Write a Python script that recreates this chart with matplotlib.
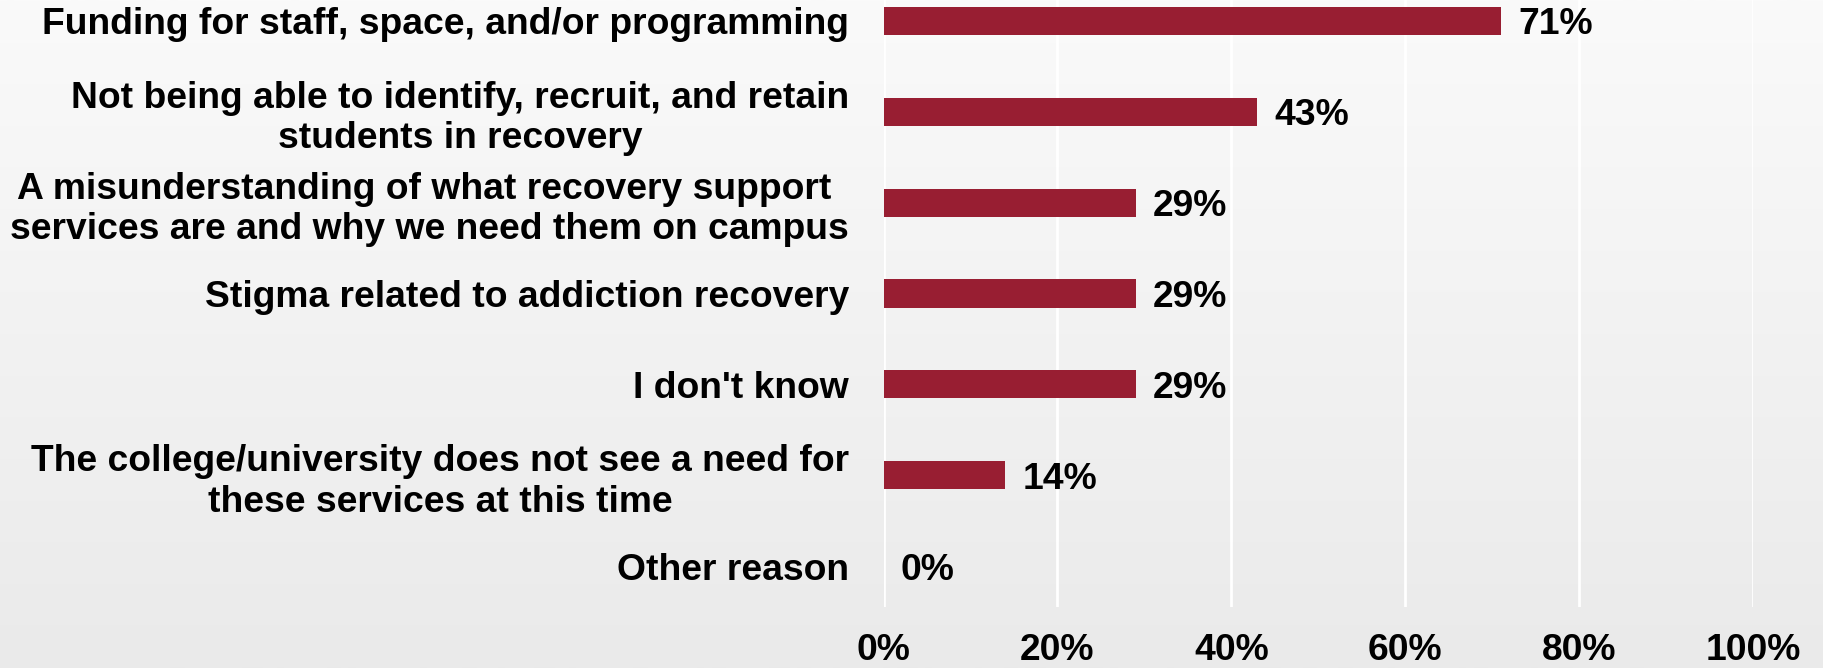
import numpy as np
import matplotlib
matplotlib.use("Agg")
import matplotlib.pyplot as plt

categories = [
    "Funding for staff, space, and/or programming",
    "Not being able to identify, recruit, and retain\nstudents in recovery",
    "A misunderstanding of what recovery support \nservices are and why we need them on campus",
    "Stigma related to addiction recovery",
    "I don't know",
    "The college/university does not see a need for\nthese services at this time",
    "Other reason",
]
values = [71, 43, 29, 29, 29, 14, 0]
xticks = [0, 20, 40, 60, 80, 100]
xtick_labels = ["0%", "20%", "40%", "60%", "80%", "100%"]

BAR_COLOR = "#981E32"
FONT = "Liberation Sans"
FS = 26.8

fig = plt.figure(figsize=(18.23, 6.68), dpi=100)

# soft vertical gradient behind everything
bg = fig.add_axes([0, 0, 1, 1], zorder=-10)
grad = np.linspace(0, 1, 256).reshape(-1, 1)
bg.imshow(grad, aspect="auto", cmap=matplotlib.colors.LinearSegmentedColormap.from_list(
    "bg", ["#fafafa", "#eaeaea"]), extent=[0, 1, 0, 1], origin="upper")
bg.axis("off")

ax = fig.add_axes([0.4847, 0.0913, 0.9616 - 0.4847, 1 - 0.0913])
ax.set_facecolor("none")

y = np.arange(len(categories))
ax.barh(y, values, height=0.31, color=BAR_COLOR, zorder=3)

for yi, v in zip(y, values):
    ax.text(v + 2.0, yi, f"{v}%", va="center_baseline", ha="left",
            fontsize=FS, fontweight="bold", family=FONT, color="black")

ax.set_xlim(0, 100)
ax.set_ylim(6.45, -0.23)
ax.set_xticks(xticks)
ax.set_xticklabels(xtick_labels)
ax.set_yticks(y)
ax.set_yticklabels(categories, multialignment="center")

for lbl in ax.get_xticklabels() + ax.get_yticklabels():
    lbl.set_fontsize(FS)
    lbl.set_fontweight("bold")
    lbl.set_family(FONT)

ax.tick_params(axis="x", length=0, pad=19)
ax.tick_params(axis="y", length=0, pad=25)
ax.grid(axis="x", color="white", linewidth=2, zorder=1)
ax.grid(axis="y", visible=False)
for s in ax.spines.values():
    s.set_visible(False)

fig.savefig("out.png", dpi=100)
